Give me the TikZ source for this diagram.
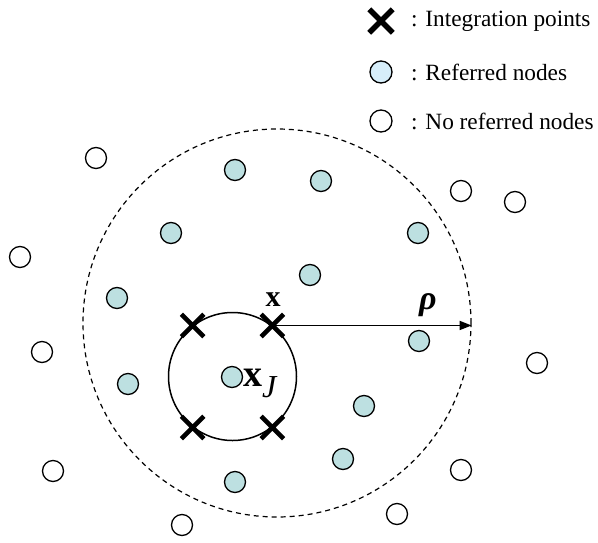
\documentclass[tikz,border=0pt]{standalone}
\usepackage{fontspec}
\setmainfont{Liberation Serif}
\usetikzlibrary{shapes.misc,arrows.meta}
\definecolor{refcol}{RGB}{189,224,225}
\definecolor{legcol}{RGB}{215,238,250}

\begin{document}
\begin{tikzpicture}[x=1pt,y=-1pt,
    refnode/.style={circle,draw,line width=1.3pt,fill=refcol,minimum size=21pt,inner sep=0pt},
    freenode/.style={circle,draw,line width=1.3pt,fill=white,minimum size=21pt,inner sep=0pt},
    ipoint/.style={cross out,draw,line width=4.5pt,minimum size=18pt,inner sep=0pt},
    legtext/.style={anchor=west,inner sep=0pt,font=\fontsize{23.3}{24}\selectfont}]
          \useasboundingbox (0,0) rectangle (598,542);

          % support domain and the cell around x_J
          \node[circle,draw,dashed,dash pattern=on 5pt off 4pt,line width=1.2pt,minimum size=388pt,inner sep=0pt] (supp) at (277,323) {};
          \node[circle,draw,line width=1.5pt,minimum size=128pt,inner sep=0pt] (cell) at (232.5,376.5) {};

          % legend
          \node[ipoint,line width=5.5pt] (l1) at (381,21) {};
          \node[circle,draw,line width=1.3pt,fill=legcol,minimum size=22pt,inner sep=0pt] (l2) at (381,72) {};
          \node[freenode,minimum size=22pt] (l3) at (381,121) {};
          \node[legtext] (t1) at (411,21) {: Integration points};
          \node[legtext] (t2) at (411,72) {: Referred nodes};
          \node[legtext] (t3) at (411,121) {: No referred nodes};

          % referred nodes
          \node[refnode] (r1) at (235,170) {};
          \node[refnode] (r2) at (321,181) {};
          \node[refnode] (r3) at (171,233) {};
          \node[refnode] (r4) at (418,233) {};
          \node[refnode] (r5) at (310,275) {};
          \node[refnode] (r6) at (117,298) {};
          \node[refnode] (r7) at (419,341) {};
          \node[refnode] (r8) at (128,384) {};
          \node[refnode] (xj) at (232,377) {};
          \node[refnode] (r9) at (364,406) {};
          \node[refnode] (r10) at (343,459) {};
          \node[refnode] (r11) at (235,482) {};

          % other nodes
          \node[freenode] (f1) at (96,158) {};
          \node[freenode] (f2) at (20,257) {};
          \node[freenode] (f3) at (42,352) {};
          \node[freenode] (f4) at (53,471) {};
          \node[freenode] (f5) at (182,525) {};
          \node[freenode] (f6) at (397,514) {};
          \node[freenode] (f7) at (461,470) {};
          \node[freenode] (f8) at (537,363) {};
          \node[freenode] (f9) at (461,191) {};
          \node[freenode] (f10) at (515,202) {};

          % integration points
          \node[ipoint] (p1) at (cell.128) {};
          \node[ipoint] (p2) at (cell.52) {};
          \node[ipoint] (p3) at (cell.232) {};
          \node[ipoint] (p4) at (cell.308) {};

          % labels
          \node[anchor=base,inner sep=0pt,font=\fontsize{30}{30}\selectfont\bfseries] (xlab) at (273,306) {x};
          \node[anchor=base west,inner sep=0pt,font=\fontsize{38}{38}\selectfont] (xjlab) at (243,386) {\textbf{x}\raisebox{-11pt}{\fontsize{32}{32}\selectfont\itshape J}};
          \node[anchor=base,inner sep=0pt,font=\fontsize{34}{34}\selectfont\bfseries\itshape] (rho) at (428,309) {ρ};

          \draw[line width=1.8pt,-{Triangle[length=12pt,width=9pt]}] (p2.center) -- (p2.center -| supp.east);
        \end{tikzpicture}
\end{document}
